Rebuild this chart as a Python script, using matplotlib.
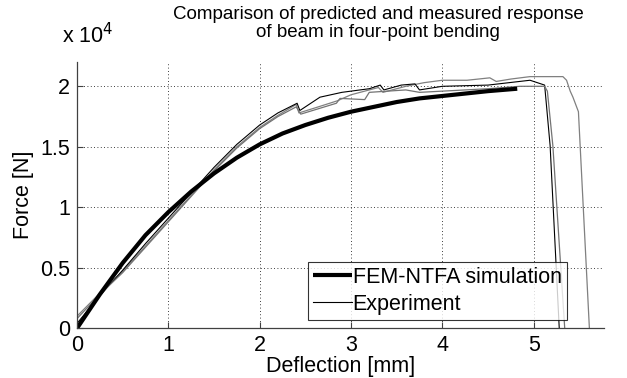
import matplotlib
matplotlib.use("Agg")
import matplotlib.pyplot as plt

plt.rcParams.update({
    "font.family": ["Liberation Sans", "DejaVu Sans"],
    "font.size": 15.5,
})

# --- Data (force in units of 1e4 N, deflection in mm) ---
fem_x = [0, 0.25, 0.5, 0.75, 1.0, 1.25, 1.5, 1.75, 2.0, 2.25, 2.5, 2.75,
         3.0, 3.25, 3.5, 3.75, 4.0, 4.25, 4.5, 4.82]
fem_f = [0, 0.28, 0.54, 0.77, 0.96, 1.13, 1.28, 1.41, 1.52, 1.61, 1.68, 1.74,
         1.79, 1.83, 1.87, 1.90, 1.92, 1.94, 1.96, 1.98]

expA_x = [0, 0.25, 0.5, 0.75, 1.0, 1.25, 1.5, 1.75, 2.0, 2.2, 2.40, 2.43, 2.60,
          2.85, 3.0, 3.3, 3.35, 3.6, 3.8, 4.0, 4.27, 4.52, 4.59, 4.75, 4.96,
          5.07, 5.32, 5.36, 5.40, 5.43, 5.49, 5.61]
expA_f = [0.10, 0.29, 0.47, 0.68, 0.89, 1.10, 1.31, 1.50, 1.66, 1.76, 1.85, 1.78,
          1.82, 1.88, 1.93, 1.99, 1.95, 2.00, 2.03, 2.05, 2.05, 2.07, 2.04, 2.06,
          2.08, 2.08, 2.08, 2.05, 1.96, 1.91, 1.79, 0.0]

expB_x = [0, 0.25, 0.5, 0.75, 1.0, 1.25, 1.5, 1.75, 2.0, 2.2, 2.41, 2.44, 2.66,
          2.9, 3.2, 3.32, 3.36, 3.55, 3.7, 3.75, 4.0, 4.5, 4.96, 5.12, 5.18, 5.28]
expB_f = [0.04, 0.27, 0.48, 0.70, 0.91, 1.12, 1.33, 1.52, 1.68, 1.78, 1.86, 1.80,
          1.91, 1.95, 1.98, 2.01, 1.97, 2.01, 2.02, 1.97, 2.00, 2.01, 2.05, 2.01,
          1.51, 0.0]

expC_x = [0, 0.25, 0.5, 0.75, 1.0, 1.25, 1.5, 1.75, 2.0, 2.2, 2.40, 2.45, 2.84,
          2.88, 3.15, 3.2, 3.6, 3.75, 4.0, 4.5, 4.85, 5.12, 5.15, 5.21, 5.34]
expC_f = [0.08, 0.28, 0.46, 0.67, 0.88, 1.09, 1.30, 1.49, 1.65, 1.75, 1.83, 1.77,
          1.86, 1.90, 1.89, 1.95, 1.97, 1.95, 1.96, 1.98, 2.00, 2.00, 1.96, 1.51,
          0.0]

x_ticks = [0, 1, 2, 3, 4, 5]
y_ticks = [0, 0.5, 1, 1.5, 2]
y_ticklabels = ["0", "0.5", "1", "1.5", "2"]

fig = plt.figure(figsize=(6.27, 3.78), dpi=100)
ax = fig.add_axes([77 / 627, 1 - 328.3 / 378, 527 / 627, 266.2 / 378])

ax.plot(expA_x, expA_f, color="0.5", lw=0.9)
ax.plot(expB_x, expB_f, color="black", lw=0.8)
ax.plot(expC_x, expC_f, color="0.45", lw=0.9)
ax.plot(fem_x, fem_f, color="black", lw=3, label="FEM-NTFA simulation",
        solid_capstyle="butt")
# legend proxy for the experiment curves
ax.plot([], [], color="black", lw=0.8, label="Experiment")

ax.set_xlim(0, 5.77)
ax.set_ylim(0, 2.2)
ax.set_xticks(x_ticks)
ax.set_yticks(y_ticks)
ax.set_yticklabels(y_ticklabels)
ax.grid(True, color="black", linestyle=(0, (1, 3)), lw=0.6)
ax.set_axisbelow(True)
for side in ("top", "right"):
    ax.spines[side].set_visible(False)
for side in ("left", "bottom"):
    ax.spines[side].set_color("0.25")
    ax.spines[side].set_linewidth(0.9)
ax.tick_params(direction="in", length=4, width=0.8, color="0.25", pad=5)

ax.set_xlabel("Deflection [mm]", labelpad=0)
ax.set_ylabel("Force [N]", labelpad=4)

leg = ax.legend(loc="lower right", bbox_to_anchor=(0.93, 0.03),
                frameon=True, fancybox=False, edgecolor="black",
                handlelength=1.8, handletextpad=0.05, borderpad=0.25,
                labelspacing=0.28, borderaxespad=0)
leg.get_frame().set_linewidth(0.8)

fig.text(378 / 627, 1 - 6 / 378,
         "Comparison of predicted and measured response\nof beam in four-point bending",
         ha="center", va="top", linespacing=1.05, fontsize=13.5)
fig.text(62 / 627, 1 - 43 / 378, r"x 10$^{4}$", ha="left", va="baseline")

fig.savefig("out.png", dpi=100)
